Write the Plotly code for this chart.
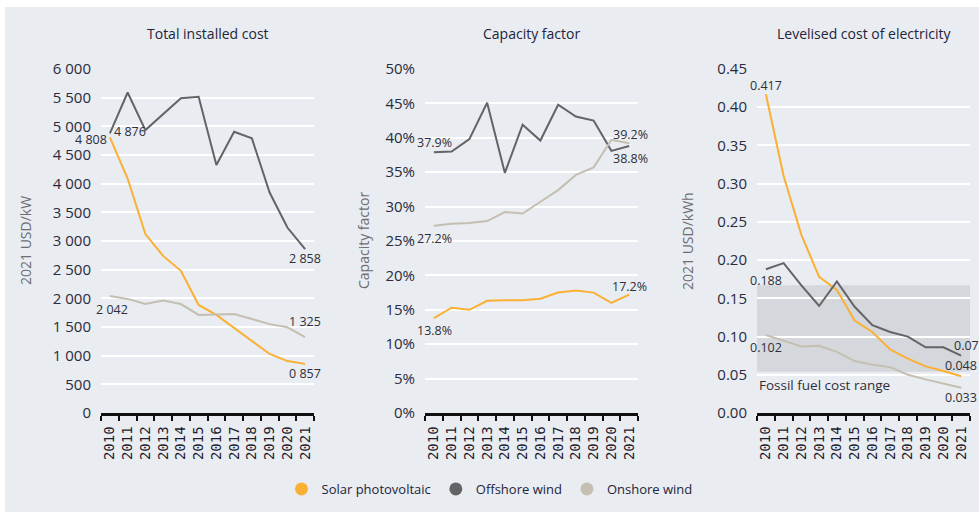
import plotly.graph_objects as go

# ---------------- data ----------------
years = [2010, 2011, 2012, 2013, 2014, 2015, 2016, 2017, 2018, 2019, 2020, 2021]
year_labels = [str(y) for y in years]

series_names = ["Solar photovoltaic", "Offshore wind", "Onshore wind"]
series_colors = ["#fbb034", "#636466", "#c4bfb1"]

# Total installed cost (2021 USD/kW)
cost_solar = [4808, 4090, 3120, 2740, 2480, 1885, 1710, 1480, 1245, 1030, 905, 857]
cost_offshore = [4876, 5590, 4935, 5220, 5490, 5515, 4325, 4905, 4790, 3845, 3235, 2858]
cost_onshore = [2042, 1990, 1900, 1960, 1900, 1710, 1720, 1725, 1640, 1550, 1495, 1325]

# Capacity factor (%)
cf_solar = [13.8, 15.3, 15.0, 16.3, 16.4, 16.4, 16.6, 17.5, 17.8, 17.5, 16.0, 17.2]
cf_offshore = [37.9, 38.0, 39.8, 45.1, 34.9, 41.9, 39.6, 44.8, 43.1, 42.5, 38.1, 38.8]
cf_onshore = [27.2, 27.5, 27.6, 27.9, 29.2, 29.0, 30.7, 32.4, 34.6, 35.7, 39.7, 39.2]

# Levelised cost of electricity (2021 USD/kWh)
lcoe_solar = [0.417, 0.310, 0.233, 0.178, 0.161, 0.121, 0.106, 0.083, 0.071, 0.061, 0.055, 0.048]
lcoe_offshore = [0.188, 0.196, 0.167, 0.140, 0.172, 0.139, 0.115, 0.106, 0.100, 0.086, 0.086, 0.075]
lcoe_onshore = [0.102, 0.095, 0.087, 0.088, 0.080, 0.068, 0.063, 0.060, 0.050, 0.044, 0.038, 0.033]

fossil_range = [0.054, 0.167]

panel_titles = ["Total installed cost", "Capacity factor", "Levelised cost of electricity"]
y_titles = ["2021 USD/kW", "Capacity factor", "2021 USD/kWh"]

cost_labels = ["4 808", "4 876", "2 042", "0 857", "2 858", "1 325"]
cf_labels = ["13.8%", "37.9%", "27.2%", "17.2%", "38.8%", "39.2%"]
lcoe_labels = ["0.417", "0.188", "0.102", "0.048", "0.075", "0.033"]

# ---------------- layout constants ----------------
W, H = 979, 512
BG = "#e9ecf1"
TXT = "#23243a"

def px_x(p):
    return p / W

def px_y(p):
    return (H - p) / H

x_domains = [[px_x(101), px_x(314)], [px_x(425), px_x(638)], [px_x(757), px_x(970)]]
y_domain = [px_y(413), px_y(69)]
boundaries = [y - 0.5 for y in years] + [years[-1] + 0.5]

fig = go.Figure()

panels = [
    (cost_solar, cost_offshore, cost_onshore),
    (cf_solar, cf_offshore, cf_onshore),
    (lcoe_solar, lcoe_offshore, lcoe_onshore),
]

for i, trio in enumerate(panels):
    xa = "x" if i == 0 else f"x{i+1}"
    ya = "y" if i == 0 else f"y{i+1}"
    for s, vals in enumerate(trio):
        fig.add_trace(go.Scatter(
            x=years, y=vals, mode="lines",
            line=dict(color=series_colors[s], width=2),
            xaxis=xa, yaxis=ya, showlegend=False, hoverinfo="skip",
        ))

# legend entries (circle markers)
for s, name in enumerate(series_names):
    fig.add_trace(go.Scatter(
        x=[None], y=[None], mode="markers", name=name,
        marker=dict(color=series_colors[s], size=13, symbol="circle"),
        xaxis="x", yaxis="y", showlegend=True,
    ))

y_cfg = [
    dict(range=[0, 6000], dtick=500, tickformat=",d"),
    dict(range=[0, 50], dtick=5, ticksuffix="%"),
    dict(range=[0, 0.45], dtick=0.05, tickformat=".2f"),
]
for i in range(3):
    sfx = "" if i == 0 else str(i + 1)
    fig.update_layout(**{
        f"xaxis{sfx}": dict(
            domain=x_domains[i], anchor=f"y{sfx}", type="linear",
            range=[boundaries[0], boundaries[-1]],
            tickmode="array", tickvals=years, ticktext=year_labels,
            ticks="outside", ticklen=5, tickcolor="rgba(0,0,0,0)",
            minor=dict(tickmode="array", tickvals=boundaries, ticks="outside",
                       ticklen=5, tickwidth=2, tickcolor="#111111", showgrid=False),
            showline=True, linecolor="#111111", linewidth=2.5,
            tickangle=-90, showgrid=False, zeroline=False,
            tickfont=dict(family="DejaVu Sans Mono", size=14, color="#1d1b2e"),
            fixedrange=True, automargin=False,
        ),
        f"yaxis{sfx}": dict(
            domain=y_domain, anchor=f"x{sfx}", showgrid=True, gridcolor="#ffffff",
            gridwidth=1.5, zeroline=False, showline=False, ticks="",
            ticklabelstandoff=9,
            tickfont=dict(family="Open Sans", size=15, color="#2a2b3d"),
            fixedrange=True, automargin=False, **y_cfg[i],
        ),
    })

fig.add_shape(type="rect", xref="x3 domain", yref="y3", x0=0, x1=1,
              y0=fossil_range[0], y1=fossil_range[1],
              fillcolor="#d4d7db", line=dict(width=0), layer="below")

fig.add_shape(type="rect", xref="paper", yref="paper", x0=0, x1=1, y0=px_y(7), y1=1,
              fillcolor="#ffffff", line=dict(width=0), layer="below")
fig.add_shape(type="rect", xref="paper", yref="paper", x0=0, x1=px_x(5), y0=0, y1=1,
              fillcolor="#ffffff", line=dict(width=0), layer="below")

ann = []
centers = [207.5, 531.5, 863.5]
for i in range(3):
    ann.append(dict(text=panel_titles[i], xref="paper", yref="paper",
                    x=px_x(centers[i]), y=px_y(33), xanchor="center", yanchor="middle",
                    showarrow=False, font=dict(family="Open Sans", size=14, color=TXT)))
y_title_x = [25, 363, 687]
for i in range(3):
    ann.append(dict(text=y_titles[i], xref="paper", yref="paper", textangle=-90,
                    x=px_x(y_title_x[i]), y=px_y(241), xanchor="center", yanchor="middle",
                    showarrow=False, font=dict(family="Open Sans", size=14, color="#6d6e74")))

lab_font = dict(family="Open Sans", size=12.5, color="#2e2f3a")

def lab(xa, ya, year, val, text, xanchor="center", xshift=0, yshift=0):
    ann.append(dict(text=text, xref=xa, yref=ya, x=year, y=val, xanchor=xanchor,
                    yanchor="middle", xshift=xshift, yshift=yshift,
                    showarrow=False, font=lab_font))

lab("x", "y", years[0], cost_solar[0], cost_labels[0], "right", -1, -2)
lab("x", "y", years[0], cost_offshore[0], cost_labels[1], "left", 2, 2)
lab("x", "y", years[0], cost_onshore[0], cost_labels[2], "center", 2, -14)
lab("x", "y", years[-1], cost_solar[-1], cost_labels[3], "center", 0, -10)
lab("x", "y", years[-1], cost_offshore[-1], cost_labels[4], "center", 0, -9)
lab("x", "y", years[-1], cost_onshore[-1], cost_labels[5], "center", 0, 16)

lab("x2", "y2", years[0], cf_solar[0], cf_labels[0], "center", 1, -12)
lab("x2", "y2", years[0], cf_offshore[0], cf_labels[1], "center", 1, 10)
lab("x2", "y2", years[0], cf_onshore[0], cf_labels[2], "center", 1, -13)
lab("x2", "y2", years[-1], cf_solar[-1], cf_labels[3], "center", 0, 8)
lab("x2", "y2", years[-1], cf_offshore[-1], cf_labels[4], "center", 1, -12)
lab("x2", "y2", years[-1], cf_onshore[-1], cf_labels[5], "center", 1, 9)

lab("x3", "y3", years[0], lcoe_solar[0], lcoe_labels[0], "center", 0, 9)
lab("x3", "y3", years[0], lcoe_offshore[0], lcoe_labels[1], "center", 0, -11)
lab("x3", "y3", years[0], lcoe_onshore[0], lcoe_labels[2], "center", 0, -12)
lab("x3", "y3", years[-1], lcoe_solar[-1], lcoe_labels[3], "center", 0, 11)
lab("x3", "y3", years[-1], lcoe_offshore[-1], lcoe_labels[4], "left", -9, 10)
lab("x3", "y3", years[-1], lcoe_onshore[-1], lcoe_labels[5], "center", 0, -10)

ann.append(dict(text="Fossil fuel cost range", xref="paper", yref="paper",
                x=px_x(757), y=px_y(385), xanchor="left", yanchor="middle",
                showarrow=False, font=dict(family="Open Sans", size=13.5, color="#2e2f3a")))

fig.update_layout(
    width=W, height=H, margin=dict(l=0, r=0, t=0, b=0),
    paper_bgcolor=BG, plot_bgcolor=BG, template="none",
    separators=". ", annotations=ann,
    showlegend=True,
    legend=dict(orientation="h", x=0.5, xanchor="center", y=px_y(489), yanchor="middle",
                bgcolor="rgba(0,0,0,0)", font=dict(family="Open Sans", size=13, color=TXT),
                itemclick=False, itemdoubleclick=False),
)

fig.write_html("out.html", config={"displayModeBar": False},
               post_script="document.body.style.margin='0';document.body.style.overflow='hidden';")
